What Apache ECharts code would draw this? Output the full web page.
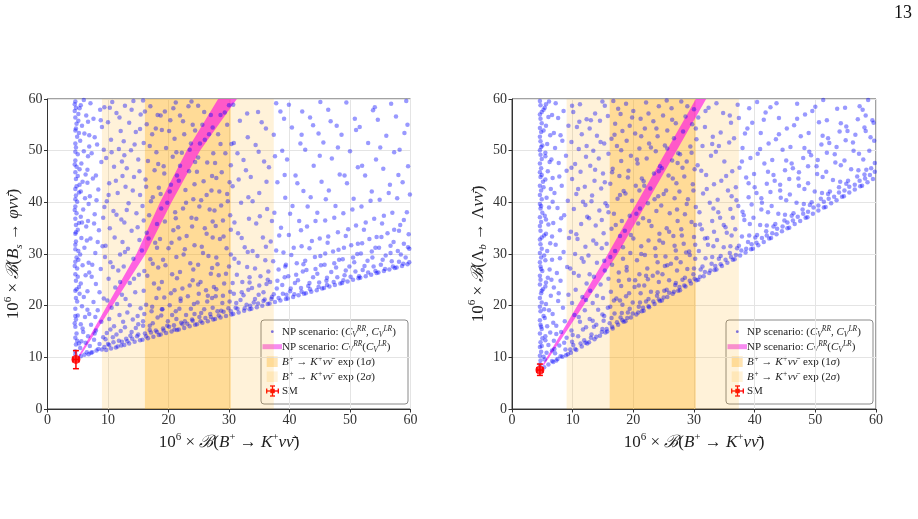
<!DOCTYPE html>
<html>
<head>
<meta charset="utf-8">
<script src="https://cdn.jsdelivr.net/npm/echarts@6/dist/echarts.min.js"></script>
<style>
  html, body { margin: 0; padding: 0; background: #fff; }
  #chart { width: 918px; height: 519px; }
</style>
</head>
<body>
<div id="chart"></div>
<script>
// B+ -> K+ nu nubar experimental bands (10^6 x BR)
const sigma1 = [16.1, 30.3]
const sigma2 = [9.0, 37.4]
const axisRange = [0, 60]
const tickStep = 10

// SM point: [x, y] and errors [xlo, xhi, ylo, yhi]
const smLeft = [4.7, 9.6]
const smLeftErr = [4.2, 5.2, 7.8, 11.3]
const smRight = [4.6, 7.55]
const smRightErr = [4.1, 5.1, 6.5, 8.7]

// C_V^RR(C_V^LR) band outline
const bandLeft = [[5.0, 10.0], [14.7, 30.0], [18.6, 40.0], [23.0, 50.0], [28.2, 60.0],
  [31.3, 60.0], [25.2, 50.0], [20.5, 40.0], [16.2, 30.0], [5.3, 10.0]]
const bandRight = [[5.0, 8.5], [15.8, 30.0], [30.3, 60.0], [32.0, 60.0], [17.4, 30.0], [5.3, 8.5]]

// NP scan points (C_V^RR, C_V^LR), left panel: B_s -> phi nu nu
const scanLeft = [
  [4.6,11.2],[4.7,12.5],[4.6,13.8],[4.8,14.6],[4.6,15.9],[4.7,17.3],[5.0,18.1],[4.6,19.4],[4.9,20.8],[4.7,21.5],
  [4.6,22.9],[5.2,23.6],[4.7,24.8],[4.6,26.1],[4.9,27.2],[4.6,28.5],[4.8,29.3],[5.1,30.6],[4.6,31.8],[4.7,32.4],
  [4.6,33.9],[5.0,34.7],[4.7,35.6],[4.6,36.8],[4.8,37.9],[4.6,39.2],[4.9,40.1],[4.7,41.3],[4.6,42.6],[5.3,43.4],
  [4.7,44.5],[4.6,45.8],[4.8,46.9],[4.6,48.1],[5.0,49.3],[4.7,50.6],[4.6,51.4],[4.9,52.7],[4.6,53.9],[4.8,55.2],
  [4.6,56.4],[5.1,57.1],[4.7,58.3],[4.6,59.5],[5.4,11.8],[5.6,13.1],[5.9,14.9],[5.5,16.4],[6.2,17.8],[5.7,19.9],
  [6.0,21.7],[5.5,24.3],[6.3,25.9],[5.8,27.8],[5.4,29.9],[6.1,31.2],[5.6,33.1],[6.4,35.3],[5.5,37.2],[5.9,38.6],
  [6.2,40.8],[5.5,42.1],[5.8,44.0],[6.3,45.4],[5.6,47.5],[6.0,49.9],[5.4,51.9],[6.1,53.3],[5.7,54.8],[6.4,56.8],
  [5.5,58.8],[6.0,59.8],[4.5,16.6],[4.8,23.2],[4.5,27.7],[4.7,34.2],[4.5,38.5],[4.8,43.1],[4.5,47.3],[4.7,54.3],
  [4.5,57.7],
  [6.8,10.6],[7.4,11.0],[8.1,11.3],[9.0,11.5],[7.0,12.2],[8.6,12.6],[7.7,13.4],[6.7,14.1],[9.2,13.9],[8.0,15.2],
  [7.2,16.3],[8.9,16.9],[6.9,18.4],[8.3,19.1],[7.6,20.7],[9.3,21.4],[6.6,22.8],[8.0,24.2],[7.3,25.6],[8.8,27.1],
  [6.8,28.3],[7.9,30.2],[9.1,31.5],[7.1,33.0],[8.5,34.6],[6.7,36.4],[7.8,37.7],[9.4,39.1],[7.0,41.2],[8.4,42.5],
  [7.5,44.6],[6.6,46.3],[8.9,47.8],[7.3,49.5],[8.2,51.2],[6.9,53.0],[9.0,54.6],[7.6,56.2],[8.7,57.9],[7.1,59.2],
  [9.7,11.4],[10.5,11.7],[11.3,11.9],[12.2,12.3],[10.0,12.6],[11.8,13.2],[10.8,13.9],[9.8,14.7],[12.1,15.1],[11.0,16.0],
  [10.2,17.4],[11.9,18.2],[10.6,19.6],[9.9,21.0],[12.3,22.1],[11.2,23.5],[10.1,25.2],[11.7,26.8],[10.4,28.4],[12.0,29.9],
  [9.6,31.6],[11.1,33.2],[10.3,35.0],[12.2,36.7],[10.9,38.3],[9.8,40.2],[11.6,41.8],[10.2,43.7],[12.4,45.1],[11.0,46.9],
  [9.7,48.6],[11.8,50.3],[10.5,52.1],[12.1,53.8],[10.0,55.5],[11.4,57.3],[10.7,59.4],
  [12.7,12.4],[13.5,12.7],[14.4,13.0],[15.3,13.3],[13.0,13.6],[14.8,14.1],[13.9,14.9],[12.8,15.8],[15.0,16.4],[14.1,17.3],
  [13.2,18.7],[15.4,19.5],[12.9,21.3],[14.5,22.6],[13.6,24.4],[15.1,26.0],[12.6,27.6],[14.2,29.1],[13.3,31.0],[15.2,32.7],
  [13.9,34.5],[12.7,36.1],[14.7,37.9],[13.4,39.8],[15.3,41.4],[12.9,43.0],[14.3,44.9],[13.1,46.6],[15.0,48.3],[13.8,50.1],
  [12.6,51.8],[14.6,53.6],[13.5,55.4],[15.4,57.0],[12.8,58.7],[14.2,59.6],
  [15.7,13.4],[16.6,13.7],[17.5,14.0],[18.4,14.3],[16.1,14.6],[17.9,15.2],[16.9,16.1],[15.8,17.0],[18.2,17.7],[17.2,18.9],
  [16.3,20.2],[18.0,21.5],[15.9,22.9],[17.6,24.3],[16.5,25.8],[18.3,27.4],[17.0,29.0],[15.6,30.7],[17.8,32.2],[16.4,34.1],
  [18.1,35.8],[16.8,37.5],[15.7,39.3],[17.4,41.0],[18.4,42.8],[16.2,44.4],[17.7,46.2],[16.6,48.0],[18.0,49.7],[15.9,51.5],
  [17.3,53.2],[16.4,55.1],[18.2,56.9],[17.0,58.6],[15.8,59.7],
  [18.7,14.4],[19.6,14.7],[20.5,15.0],[21.4,15.3],[19.1,15.6],[20.9,16.2],[19.9,17.0],[18.8,18.1],[21.2,18.9],[20.2,20.1],
  [19.3,21.6],[21.0,23.0],[18.9,24.6],[20.6,26.1],[19.5,27.8],[21.3,29.4],[20.0,31.1],[18.6,32.9],[20.8,34.6],[19.4,36.3],
  [21.1,38.1],[19.8,39.9],[18.7,41.6],[20.4,43.4],[21.4,45.2],[19.2,47.0],[20.7,48.8],[19.6,50.5],[21.0,52.3],[18.9,54.0],
  [20.3,55.9],[19.4,57.6],[21.2,59.3],
  [21.7,15.4],[22.6,15.7],[23.5,16.0],[24.4,16.3],[22.1,16.7],[23.9,17.3],[22.9,18.2],[21.8,19.4],[24.2,20.3],[23.2,21.8],
  [22.3,23.3],[24.0,24.9],[21.9,26.5],[23.6,28.2],[22.5,29.9],[24.3,31.7],[23.0,33.5],[21.6,35.2],[23.8,37.0],[22.4,38.8],
  [24.1,40.6],[22.8,42.4],[21.7,44.2],[23.4,46.0],[24.4,47.8],[22.2,49.6],[23.7,51.4],[22.6,53.2],[24.0,55.0],[21.9,56.8],
  [23.3,58.6],
  [24.7,16.4],[25.6,16.7],[26.5,17.0],[27.4,17.3],[25.1,17.8],[26.9,18.4],[25.9,19.3],[24.8,20.6],[27.2,21.5],[26.2,23.0],
  [25.3,24.6],[27.0,26.2],[24.9,27.9],[26.6,29.6],[25.5,31.4],[27.3,33.2],[26.0,35.0],[24.6,36.8],[26.8,38.6],[25.4,40.4],
  [27.1,42.3],[25.8,44.1],[24.7,45.9],[26.4,47.7],[27.4,49.5],[25.2,51.4],[26.7,53.2],[25.6,55.0],[27.0,56.9],[24.9,58.7],
  [27.7,17.4],[28.6,17.7],[29.5,18.0],[30.4,18.3],[28.1,18.9],[29.9,19.5],[28.9,20.5],[27.8,21.8],[30.2,22.7],[29.2,24.3],
  [28.3,25.9],[30.0,27.6],[27.9,29.3],[29.6,31.1],[28.5,32.9],[30.3,34.7],[29.0,36.5],[27.6,38.4],[29.8,40.2],[28.4,42.1],
  [30.1,43.9],[28.8,45.8],[27.7,47.6],[29.4,49.5],[30.4,51.3],[28.2,53.2],[29.7,55.0],[28.6,56.9],[30.0,58.8],
  [30.7,18.4],[31.6,18.7],[32.5,19.0],[33.4,19.3],[31.1,19.6],[32.9,20.2],[31.9,21.1],[30.8,22.3],[33.2,23.1],[32.2,24.6],
  [31.3,26.0],[33.0,27.5],[30.9,29.1],[32.6,31.3],[31.5,34.0],[33.3,36.8],[32.0,39.9],[30.6,43.1],[32.8,46.2],[31.4,49.5],
  [33.1,52.6],[31.8,55.8],[30.7,58.9],
  [33.7,19.4],[34.6,19.7],[35.5,20.0],[36.4,20.3],[34.1,20.6],[35.9,21.2],[34.9,22.1],[33.8,23.4],[36.2,24.2],[35.2,25.7],
  [34.3,27.2],[36.0,28.8],[33.9,30.6],[35.6,33.2],[34.5,35.9],[36.3,38.7],[35.0,41.8],[33.6,44.9],[35.8,47.9],[34.4,51.1],
  [36.1,54.3],[34.8,57.5],
  [36.7,20.4],[37.6,20.7],[38.5,21.0],[39.4,21.3],[37.1,21.7],[38.9,22.3],[37.9,23.3],[36.8,24.6],[39.2,25.5],[38.2,27.0],
  [37.3,28.6],[39.0,30.3],[36.9,32.4],[38.6,35.1],[37.5,38.0],[39.3,40.9],[38.0,43.9],[36.6,46.8],[38.8,50.0],[37.4,53.1],
  [39.1,56.2],[37.8,59.2],
  [39.7,21.4],[40.6,21.7],[41.5,22.0],[42.4,22.3],[40.1,22.8],[41.9,23.4],[40.9,24.4],[39.8,25.7],[42.2,26.6],[41.2,28.2],
  [40.3,29.8],[42.0,31.5],[39.9,33.7],[41.6,36.4],[40.5,39.3],[42.3,42.2],[41.0,45.2],[39.6,48.3],[41.8,51.4],[40.4,54.5],
  [42.1,57.6],
  [42.7,22.4],[43.6,22.7],[44.5,23.0],[45.4,23.3],[43.1,23.8],[44.9,24.5],[43.9,25.5],[42.8,26.9],[45.2,27.8],[44.2,29.4],
  [43.3,31.1],[45.0,33.0],[42.9,35.3],[44.6,38.0],[43.5,41.0],[45.3,44.0],[44.0,47.1],[42.6,50.2],[44.8,53.3],[43.4,56.4],
  [45.1,59.4],
  [45.7,23.4],[46.6,23.7],[47.5,24.0],[48.4,24.3],[46.1,24.8],[47.9,25.5],[46.9,26.5],[45.8,27.9],[48.2,28.9],[47.2,30.5],
  [46.3,32.2],[48.0,34.2],[45.9,36.5],[47.6,39.3],[46.5,42.3],[48.3,45.4],[47.0,48.5],[45.6,51.6],[47.8,54.8],[46.4,57.9],
  [48.7,24.4],[49.6,24.7],[50.5,25.0],[51.4,25.3],[49.1,25.9],[50.9,26.6],[49.9,27.6],[48.8,29.0],[51.2,30.0],[50.2,31.7],
  [49.3,33.5],[51.0,35.5],[48.9,37.9],[50.6,40.7],[49.5,43.7],[51.3,46.8],[50.0,49.9],[48.6,53.1],[50.8,56.2],[49.4,59.3],
  [51.7,25.4],[52.6,25.7],[53.5,26.0],[54.4,26.3],[52.1,26.9],[53.9,27.6],[52.9,28.7],[51.8,30.1],[54.2,31.2],[53.2,32.9],
  [52.3,34.7],[54.0,36.8],[51.9,39.2],[53.6,42.1],[52.5,45.2],[54.3,48.3],[53.0,51.5],[51.6,54.6],[53.8,57.8],
  [54.7,26.4],[55.6,26.7],[56.5,27.0],[57.4,27.3],[55.1,27.9],[56.9,28.6],[55.9,29.7],[54.8,31.2],[57.2,32.3],[56.2,34.0],
  [55.3,35.9],[57.0,38.0],[54.9,40.5],[56.6,43.4],[55.5,46.5],[57.3,49.7],[56.0,52.9],[54.6,56.0],[56.8,59.1],
  [57.7,27.4],[58.6,27.7],[59.5,28.0],[58.1,28.5],[59.2,29.3],[57.9,30.6],[58.9,32.0],[59.7,33.8],[58.3,35.6],[59.4,38.1],
  [57.8,40.8],[58.7,43.9],[59.6,47.0],[58.2,50.2],[59.0,53.4],[57.6,56.6],[59.3,59.6],
  [5.5,10.2],[6.1,10.5],[6.5,11.0],[7.2,10.9],[8.4,11.6],[9.4,12.0],[10.2,12.4],[11.6,12.1],[12.3,13.0],[13.2,13.1],
  [14.0,13.6],[15.0,14.4],[16.3,14.1],[17.1,14.8],[18.1,14.9],[19.2,15.2],[20.1,15.9],[21.0,15.4],[22.3,16.4],[23.1,16.5],
  [24.0,17.1],[25.3,17.0],[26.1,17.6],[27.0,17.8],[28.3,18.1],[29.1,18.8],[30.3,18.9],[31.4,19.4],[32.6,19.5],[33.5,20.0],
  [34.8,20.4],[35.7,20.9],[37.0,21.3],[38.2,21.5],[39.5,22.1],[40.8,22.2],[42.0,22.7],[43.4,23.2],[44.8,23.6],[46.2,24.0],
  [47.3,24.6],[48.9,24.9],[50.1,25.6],[51.5,25.7],[53.0,26.4],[54.2,26.7],[55.8,27.1],[57.1,27.6],[58.8,28.1],[59.8,28.4],
  [6.3,12.8],[7.8,14.6],[9.6,13.5],[11.4,14.4],[12.5,16.9],[14.6,15.7],[16.0,18.4],[17.4,16.6],[19.0,19.3],[20.6,18.2],
  [22.0,20.9],[23.7,19.4],[25.0,22.3],[26.4,20.8],[27.5,23.6],[29.0,21.9],[30.6,24.4],[32.1,22.6],[33.4,25.5],[35.0,23.9],
  [36.5,26.6],[38.0,24.8],[39.4,27.9],[41.1,26.0],[42.6,28.7],[44.3,27.1],[45.9,30.1],[47.4,28.2],[49.0,31.2],[50.5,29.3],
  [52.0,32.1],[53.6,30.5],[55.2,33.3],[56.7,31.6],[58.1,34.5],[59.6,31.3]
]

const scanLeftMore = [
  [4.6,10.6],[4.9,13.2],[4.6,18.0],[5.0,25.6],[4.6,30.9],[5.2,36.0],[4.6,40.6],[5.0,45.1],[4.6,49.8],[5.1,55.8],[4.5,59.0],
  [5.2,12.7],[5.8,15.6],[6.6,19.2],[5.3,22.3],[6.9,26.4],[5.1,28.9],[6.5,32.6],[5.7,36.1],[6.8,39.7],[5.2,41.9],
  [6.6,43.8],[5.3,46.4],[6.9,50.8],[5.2,53.4],[6.7,55.6],[5.3,58.2],
  [7.9,17.8],[8.6,22.6],[7.4,27.9],[9.5,29.4],[8.3,32.3],[7.7,35.9],[9.2,37.0],[8.1,40.4],[6.7,48.9],[8.0,45.2],
  [9.3,50.2],[7.8,52.6],[8.8,55.9],[9.4,58.4],
  [10.9,12.9],[10.4,15.4],[11.5,20.3],[12.0,24.6],[10.8,27.5],[12.4,32.3],[11.4,37.6],[10.1,41.4],[11.3,44.2],[12.3,47.9],
  [10.6,49.7],[11.9,56.4],[10.3,58.3],
  [13.7,14.2],[14.9,18.0],[13.6,20.1],[14.3,25.2],[12.8,30.4],[14.9,35.2],[13.1,38.5],[14.1,42.3],[15.2,46.0],[12.7,49.1],
  [14.4,51.2],[15.3,54.2],[13.9,57.9],
  [16.9,15.3],[15.8,16.1],[17.3,19.8],[18.4,23.3],[16.0,26.7],[17.4,28.1],[18.1,31.2],[16.7,33.0],[15.9,36.5],[17.1,40.2],
  [16.3,43.0],[18.3,47.4],[16.9,50.9],[17.9,54.3],[16.1,57.6],
  [19.8,16.1],[21.3,17.4],[18.9,19.3],[20.4,22.4],[21.4,25.3],[19.1,28.9],[20.5,32.2],[21.2,36.9],[18.8,38.8],[20.2,42.1],
  [19.3,45.6],[21.3,49.7],[20.1,53.8],[18.7,56.8],[20.8,58.2],
  [22.7,17.0],[24.3,18.4],[22.0,21.4],[23.5,23.9],[24.1,27.0],[22.7,30.9],[21.8,33.0],[23.9,35.3],[22.9,39.9],[24.3,43.5],
  [21.9,47.1],[23.5,50.2],[24.4,53.9],[22.4,55.7],[23.8,59.5],
  [25.4,18.6],[27.3,19.6],[26.5,21.9],[24.9,24.1],[27.2,27.3],[25.7,30.2],[26.3,33.9],[27.3,36.3],[25.1,39.2],[26.3,41.4],
  [27.2,45.1],[24.9,48.7],[26.0,52.1],[27.3,54.5],[25.9,57.5],
  [28.7,19.0],[30.1,20.8],[27.9,23.2],[29.5,26.2],[28.1,28.0],[30.3,29.9],[29.1,33.4],[27.8,35.4],[30.2,37.5],[28.7,39.4],
  [29.7,41.6],[27.9,44.7],[30.3,47.2],[28.6,51.3],[29.3,57.4],
  [31.2,20.5],[32.4,22.0],[33.4,24.5],[31.6,28.3],[33.1,30.4],[32.1,33.1],[30.9,36.1],[33.2,41.0],[31.6,44.4],[32.4,48.2],
  [30.8,51.5],[33.0,57.2],
  [34.3,21.3],[35.7,22.6],[36.4,25.0],[34.7,29.6],[36.1,31.4],[35.1,37.3],[33.9,40.2],[36.2,44.0],[34.9,49.8],[35.4,55.5],
  [37.4,22.2],[38.8,24.0],[39.3,27.6],[37.8,30.7],[38.3,33.6],[37.1,36.4],[39.2,45.3],[37.6,48.9],[38.5,57.6],
  [40.2,23.3],[41.4,24.9],[42.3,28.0],[40.7,31.2],[41.9,34.6],[40.1,37.8],[41.3,43.7],[42.0,53.1],[39.9,58.9],
  [43.3,24.4],[44.6,26.2],[45.1,29.6],[43.7,32.5],[44.3,36.4],[43.0,39.2],[45.0,49.0],[43.9,54.9],
  [46.2,25.4],[47.7,27.4],[48.1,30.8],[46.4,33.4],[47.4,37.0],[46.0,40.6],[48.0,50.6],[46.8,55.7],
  [49.3,26.8],[50.7,28.4],[51.3,32.0],[49.7,34.8],[50.4,38.6],[49.1,45.2],[51.0,54.0],
  [52.4,27.7],[53.7,29.3],[54.4,33.3],[52.6,36.1],[53.4,40.3],[52.0,47.1],[54.1,58.4],
  [55.4,28.9],[56.7,30.2],[57.3,34.7],[55.6,37.4],[56.4,41.8],[55.0,50.6],
  [58.4,29.9],[59.8,31.0],[58.9,36.6],[59.9,41.5],[58.0,45.3],[59.5,55.0]
]

// NP scan points, right panel: Lambda_b -> Lambda nu nu
const scanRight = [
  [4.6,8.6],[4.7,9.4],[4.6,10.3],[4.8,11.1],[4.6,12.0],[4.7,12.9],[5.0,13.7],[4.6,14.6],[4.9,15.5],[4.7,16.3],
  [4.6,17.2],[5.2,18.0],[4.7,18.9],[4.6,19.8],[4.9,20.6],[4.6,21.5],[4.8,22.4],[5.1,23.2],[4.6,24.1],[4.7,25.0],
  [4.6,25.8],[5.0,26.7],[4.7,27.6],[4.6,28.4],[4.8,29.3],[4.6,30.2],[4.9,31.0],[4.7,31.9],[4.6,32.8],[5.3,33.6],
  [4.7,34.5],[4.6,35.4],[4.8,36.2],[4.6,37.1],[5.0,38.0],[4.7,38.8],[4.6,39.7],[4.9,40.6],[4.6,41.4],[4.8,42.3],
  [4.6,43.2],[5.1,44.0],[4.7,44.9],[4.6,45.8],[4.8,46.6],[4.6,47.5],[4.9,48.4],[4.7,49.2],[4.6,50.1],[5.0,51.0],
  [4.7,51.8],[4.6,52.7],[4.8,53.6],[4.6,54.4],[4.9,55.3],[4.7,56.2],[4.6,57.0],[5.2,57.9],[4.7,58.8],[4.6,59.6],
  [5.4,9.6],[5.7,10.9],[6.0,12.4],[5.5,13.3],[6.3,14.8],[5.8,16.0],[5.4,17.6],[6.1,19.1],[5.6,20.3],[6.4,21.9],
  [5.5,23.7],[5.9,25.4],[6.2,27.0],[5.5,28.8],[5.8,30.6],[6.3,32.1],[5.6,33.9],[6.0,35.7],[5.4,37.4],[6.1,39.0],
  [5.7,40.9],[6.4,42.6],[5.5,44.4],[5.9,46.0],[6.2,47.8],[5.5,49.6],[5.8,51.3],[6.3,53.0],[5.6,54.8],[6.0,56.5],
  [5.4,58.3],[6.1,59.5],
  [6.8,9.1],[7.5,9.7],[8.3,10.1],[9.2,10.6],[7.1,10.8],[8.8,11.5],[7.8,12.3],[6.9,13.2],[9.0,13.8],[8.1,14.9],
  [7.3,16.1],[8.7,17.0],[6.7,18.4],[8.4,19.6],[7.6,20.9],[9.3,22.1],[6.9,23.5],[8.0,24.8],[7.4,26.3],[9.1,27.5],
  [6.6,28.9],[8.5,30.4],[7.2,31.8],[9.4,33.1],[7.9,34.6],[6.8,36.0],[8.6,37.5],[7.5,38.9],[9.2,40.3],[7.0,41.8],
  [8.2,43.2],[6.7,44.7],[9.0,46.1],[7.7,47.6],[8.9,49.0],[7.1,50.5],[8.3,51.9],[6.9,53.4],[9.3,54.8],[7.6,56.3],
  [8.5,57.7],[7.2,59.2],
  [9.7,10.9],[10.6,11.4],[11.5,12.1],[12.4,12.7],[10.1,12.4],[11.9,13.3],[10.9,14.1],[9.8,15.2],[12.2,15.8],[11.2,16.9],
  [10.3,18.2],[12.0,19.1],[9.9,20.5],[11.6,21.7],[10.5,23.1],[12.3,24.3],[11.0,25.8],[9.6,27.2],[11.8,28.5],[10.4,30.0],
  [12.1,31.4],[10.8,32.9],[9.7,34.3],[11.4,35.8],[12.4,37.2],[10.2,38.7],[11.7,40.1],[10.6,41.6],[12.0,43.0],[9.9,44.5],
  [11.3,45.9],[10.4,47.4],[12.2,48.8],[11.0,50.3],[9.8,51.7],[11.5,53.2],[10.7,54.6],[12.3,56.1],[10.1,57.5],[11.2,59.0],
  [12.7,12.9],[13.6,13.5],[14.5,14.2],[15.4,14.8],[13.1,14.4],[14.9,15.5],[13.9,16.3],[12.8,17.4],[15.2,18.0],[14.2,19.2],
  [13.3,20.5],[15.0,21.5],[12.9,22.9],[14.6,24.1],[13.5,25.6],[15.3,26.8],[14.0,28.3],[12.6,29.7],[14.8,31.1],[13.4,32.6],
  [15.1,34.0],[13.8,35.5],[12.7,36.9],[14.4,38.4],[15.4,39.8],[13.2,41.3],[14.7,42.7],[13.6,44.2],[15.0,45.6],[12.9,47.1],
  [14.3,48.5],[13.4,50.0],[15.2,51.4],[14.0,52.9],[12.8,54.3],[14.5,55.8],[13.7,57.2],[15.3,58.7],
  [15.7,15.0],[16.6,15.6],[17.5,16.3],[18.4,16.9],[16.1,16.6],[17.9,17.7],[16.9,18.5],[15.8,19.6],[18.2,20.2],[17.2,21.4],
  [16.3,22.7],[18.0,23.8],[15.9,25.2],[17.6,26.4],[16.5,27.9],[18.3,29.1],[17.0,30.6],[15.6,32.0],[17.8,33.5],[16.4,34.9],
  [18.1,36.4],[16.8,37.8],[15.7,39.3],[17.4,40.7],[18.4,42.2],[16.2,43.6],[17.7,45.1],[16.6,46.5],[18.0,48.0],[15.9,49.4],
  [17.3,50.9],[16.4,52.3],[18.2,53.8],[17.0,55.2],[15.8,56.7],[17.5,58.1],[16.7,59.6],
  [18.7,17.0],[19.6,17.7],[20.5,18.3],[21.4,18.9],[19.1,18.7],[20.9,19.8],[19.9,20.6],[18.8,21.8],[21.2,22.4],[20.2,23.6],
  [19.3,25.0],[21.0,26.1],[18.9,27.5],[20.6,28.8],[19.5,30.2],[21.3,31.5],[20.0,33.0],[18.6,34.5],[20.8,35.9],[19.4,37.4],
  [21.1,38.8],[19.8,40.3],[18.7,41.7],[20.4,43.2],[21.4,44.6],[19.2,46.1],[20.7,47.5],[19.6,49.0],[21.0,50.4],[18.9,51.9],
  [20.3,53.3],[19.4,54.8],[21.2,56.2],[20.0,57.7],[18.8,59.1],
  [21.7,19.0],[22.6,19.7],[23.5,20.3],[24.4,20.9],[22.1,20.8],[23.9,21.9],[22.9,22.7],[21.8,23.9],[24.2,24.6],[23.2,25.8],
  [22.3,27.2],[24.0,28.4],[21.9,29.8],[23.6,31.1],[22.5,32.6],[24.3,33.9],[23.0,35.4],[21.6,36.9],[23.8,38.3],[22.4,39.8],
  [24.1,41.2],[22.8,42.7],[21.7,44.1],[23.4,45.6],[24.4,47.0],[22.2,48.5],[23.7,49.9],[22.6,51.4],[24.0,52.8],[21.9,54.3],
  [23.3,55.7],[22.5,57.2],[24.2,58.6],
  [24.7,21.0],[25.6,21.7],[26.5,22.3],[27.4,22.9],[25.1,22.9],[26.9,24.0],[25.9,24.9],[24.8,26.1],[27.2,26.8],[26.2,28.1],
  [25.3,29.5],[27.0,30.7],[24.9,32.2],[26.6,33.5],[25.5,35.0],[27.3,36.4],[26.0,37.9],[24.6,39.4],[26.8,40.8],[25.4,42.3],
  [27.1,43.7],[25.8,45.2],[24.7,46.6],[26.4,48.1],[27.4,49.5],[25.2,51.0],[26.7,52.4],[25.6,53.9],[27.0,55.3],[24.9,56.8],
  [26.3,58.2],[25.5,59.7],
  [27.7,23.0],[28.6,23.7],[29.5,24.3],[30.4,24.9],[28.1,25.0],[29.9,26.1],[28.9,27.1],[27.8,28.4],[30.2,29.1],[29.2,30.5],
  [28.3,32.0],[30.0,33.3],[27.9,34.8],[29.6,36.2],[28.5,37.7],[30.3,39.1],[29.0,40.6],[27.6,42.1],[29.8,43.5],[28.4,45.0],
  [30.1,46.4],[28.8,47.9],[27.7,49.3],[29.4,50.8],[30.4,52.2],[28.2,53.7],[29.7,55.1],[28.6,56.6],[30.0,58.0],[27.9,59.5],
  [30.7,25.0],[31.6,25.7],[32.5,26.3],[33.4,26.9],[31.1,27.0],[32.9,28.1],[31.9,29.2],[30.8,30.6],[33.2,31.5],[32.2,33.1],
  [31.3,34.8],[33.0,36.4],[30.9,38.1],[32.6,39.9],[31.5,41.7],[33.3,43.5],[32.0,45.3],[30.6,47.2],[32.8,49.0],[31.4,50.9],
  [33.1,52.7],[31.8,54.6],[30.7,56.4],[32.4,58.3],
  [33.7,27.0],[34.6,27.7],[35.5,28.3],[36.4,28.9],[34.1,29.1],[35.9,30.2],[34.9,31.3],[33.8,32.7],[36.2,33.6],[35.2,35.2],
  [34.3,37.0],[36.0,38.7],[33.9,40.5],[35.6,42.3],[34.5,44.2],[36.3,46.0],[35.0,47.9],[33.6,49.8],[35.8,51.6],[34.4,53.5],
  [36.1,55.4],[34.8,57.3],[33.7,59.2],
  [36.7,29.0],[37.6,29.7],[38.5,30.3],[39.4,30.9],[37.1,31.1],[38.9,32.3],[37.9,33.4],[36.8,34.8],[39.2,35.8],[38.2,37.5],
  [37.3,39.3],[39.0,41.0],[36.9,42.9],[38.6,44.8],[37.5,46.7],[39.3,48.6],[38.0,50.5],[36.6,52.4],[38.8,54.3],[37.4,56.3],
  [39.1,58.2],
  [39.7,31.0],[40.6,31.7],[41.5,32.3],[42.4,33.0],[40.1,33.2],[41.9,34.4],[40.9,35.6],[39.8,37.0],[42.2,38.1],[41.2,39.9],
  [40.3,41.8],[42.0,43.6],[39.9,45.5],[41.6,47.5],[40.5,49.4],[42.3,51.4],[41.0,53.4],[39.6,55.4],[41.8,57.4],[40.4,59.4],
  [42.7,33.1],[43.6,33.8],[44.5,34.4],[45.4,35.0],[43.1,35.3],[44.9,36.5],[43.9,37.8],[42.8,39.3],[45.2,40.4],[44.2,42.3],
  [43.3,44.2],[45.0,46.2],[42.9,48.2],[44.6,50.2],[43.5,52.2],[45.3,54.3],[44.0,56.3],[42.6,58.4],
  [45.7,35.1],[46.6,35.8],[47.5,36.4],[48.4,37.0],[46.1,37.4],[47.9,38.6],[46.9,39.9],[45.8,41.5],[48.2,42.6],[47.2,44.6],
  [46.3,46.6],[48.0,48.6],[45.9,50.7],[47.6,52.8],[46.5,54.9],[48.3,57.0],[47.0,59.1],
  [48.7,37.1],[49.6,37.8],[50.5,38.4],[51.4,39.0],[49.1,39.5],[50.9,40.7],[49.9,42.1],[48.8,43.7],[51.2,44.9],[50.2,47.0],
  [49.3,49.1],[51.0,51.2],[48.9,53.4],[50.6,55.5],[49.5,57.7],[51.3,59.8],
  [51.7,39.1],[52.6,39.8],[53.5,40.4],[54.4,41.1],[52.1,41.6],[53.9,42.9],[52.9,44.3],[51.8,45.9],[54.2,47.2],[53.2,49.3],
  [52.3,51.5],[54.0,53.7],[51.9,55.9],[53.6,58.1],
  [54.7,41.2],[55.6,41.9],[56.5,42.5],[57.4,43.1],[55.1,43.6],[56.9,45.0],[55.9,46.4],[54.8,48.1],[57.2,49.4],[56.2,51.6],
  [55.3,53.8],[57.0,56.1],[54.9,58.3],
  [57.7,43.2],[58.6,43.9],[59.5,44.5],[58.1,45.4],[59.2,46.6],[57.9,48.3],[58.9,50.0],[59.7,51.9],[58.3,53.8],[59.4,55.9],
  [57.8,57.9],[58.7,59.8],
  [5.3,8.1],[6.0,8.6],[6.6,9.3],[7.3,9.4],[8.0,10.2],[8.9,10.4],[9.6,11.5],[10.4,11.6],[11.3,12.7],[12.1,12.8],
  [13.0,13.8],[13.9,14.0],[14.8,14.9],[15.6,15.5],[16.5,15.9],[17.3,16.8],[18.2,17.2],[19.0,17.6],[19.9,18.5],[20.8,18.7],
  [21.6,19.6],[22.5,19.9],[23.3,20.8],[24.2,21.2],[25.0,21.6],[25.9,22.5],[26.7,22.7],[27.6,23.6],[28.4,23.9],[29.3,24.8],
  [30.1,25.2],[31.0,25.6],[31.8,26.5],[32.7,26.8],[33.5,27.7],[34.4,28.0],[35.2,28.9],[36.1,29.4],[36.9,29.8],[37.8,30.7],
  [38.6,31.0],[39.5,31.9],[40.3,32.2],[41.2,33.1],[42.0,33.6],[42.9,34.0],[43.7,34.9],[44.6,35.3],[45.4,36.1],[46.3,36.5],
  [47.1,37.2],[48.0,37.8],[48.8,38.2],[49.7,39.0],[50.5,39.4],[51.4,40.1],[52.2,40.7],[53.1,41.1],[53.9,41.9],[54.8,42.3],
  [55.6,43.0],[56.5,43.4],[57.3,44.2],[58.2,44.6],[59.0,45.3],[59.8,45.9],
  [7.0,11.6],[8.6,12.8],[10.0,14.3],[11.7,15.4],[13.3,17.1],[14.9,18.3],[16.2,19.8],[17.8,21.0],[19.3,22.4],[20.9,23.9],
  [22.4,25.1],[24.0,26.4],[25.6,27.8],[27.1,29.2],[28.7,30.3],[30.2,31.8],[31.8,33.0],[33.3,34.3],[34.9,35.6],[36.4,37.0],
  [38.0,38.2],[39.5,39.6],[41.1,40.8],[42.6,42.0],[44.2,43.4],[45.7,44.5],[47.3,45.8],[48.8,47.0],[50.4,48.2],[51.9,49.6],
  [53.5,50.7],[55.0,52.0],[56.6,53.1],[58.1,54.5],[59.6,55.4]
]

const scanRightMore = [
  [5.2,10.1],[4.9,12.2],[5.5,14.1],[4.8,15.9],[5.3,19.3],[4.9,22.9],[5.6,24.5],[4.8,27.1],[5.3,29.7],[4.9,33.2],
  [5.6,36.7],[4.8,39.3],[5.2,42.9],[4.9,45.3],[5.5,48.9],[4.8,50.7],[5.2,53.9],[4.9,57.5],[5.6,59.0],[6.6,11.3],
  [7.3,14.5],[6.8,16.7],[7.7,22.4],[6.5,25.0],[7.9,29.2],[6.6,33.4],[8.1,36.9],[6.7,40.1],[7.8,45.0],[6.5,48.3],
  [8.0,53.0],[6.6,56.9],
  [9.9,13.0],[11.0,17.8],[12.2,21.1],[10.2,26.3],[11.5,29.2],[10.6,33.8],[12.1,39.5],[10.9,42.6],[9.8,46.7],[12.3,50.9],
  [11.1,55.6],[9.9,58.7],
  [13.5,15.9],[15.1,17.1],[14.0,21.9],[12.8,26.1],[15.2,28.7],[13.9,32.0],[14.8,36.6],[13.1,40.2],[15.3,43.9],[13.7,46.3],
  [14.6,51.7],[13.0,55.9],[14.9,59.5],
  [16.4,17.6],[18.1,18.6],[16.8,21.0],[17.6,24.8],[16.2,29.4],[18.3,31.3],[17.1,35.6],[15.9,38.1],[17.8,41.4],[16.5,45.8],
  [18.0,50.1],[16.9,53.1],[17.9,57.1],
  [19.4,19.4],[21.1,20.6],[20.3,24.9],[18.9,26.8],[21.3,30.0],[19.6,33.7],[20.5,37.8],[21.0,42.3],[19.1,44.8],[20.6,48.3],
  [21.3,52.8],[19.8,56.4],
  [22.5,21.3],[24.0,22.6],[22.1,25.8],[23.7,29.6],[24.3,32.6],[22.6,36.4],[23.5,40.6],[21.8,43.2],[24.2,46.0],[22.9,50.6],
  [23.8,54.3],[22.1,59.3],
  [25.5,23.1],[27.0,24.4],[25.2,27.7],[26.8,31.6],[25.9,34.3],[27.2,38.6],[25.0,41.6],[26.5,44.6],[27.3,47.6],[25.6,50.4],
  [26.4,56.0],
  [28.5,25.4],[30.0,27.2],[29.3,29.8],[28.0,33.6],[30.2,35.6],[28.8,39.7],[29.9,42.3],[28.1,46.7],[29.6,49.6],[30.3,54.3],
  [28.9,58.6],
  [31.4,27.6],[33.0,29.4],[32.3,31.8],[31.0,35.7],[33.2,38.8],[32.1,42.6],[31.2,46.1],[33.0,51.3],[31.9,57.7],
  [34.4,29.6],[36.0,31.5],[35.4,34.1],[34.0,38.1],[36.2,41.2],[35.3,45.1],[34.1,50.9],[35.9,56.8],
  [37.4,31.6],[39.1,33.6],[38.3,36.6],[37.0,40.4],[39.0,43.7],[37.9,47.9],[38.4,53.3],[37.2,58.9],
  [40.4,33.7],[42.0,35.5],[41.1,38.6],[40.0,42.9],[42.2,45.9],[40.9,50.3],[41.5,56.0],
  [43.4,35.8],[45.0,37.6],[44.3,40.9],[43.1,45.3],[45.2,48.1],[44.0,53.2],[43.6,59.2],
  [46.4,37.9],[48.1,39.7],[47.3,43.2],[46.1,47.5],[48.2,50.5],[47.0,56.2],
  [49.4,40.0],[51.1,41.8],[50.3,45.5],[49.0,49.8],[51.2,52.9],[50.0,58.5],
  [52.4,42.1],[54.1,44.0],[53.3,47.7],[52.1,52.4],[54.2,55.3],
  [55.4,44.2],[57.1,46.2],[56.3,50.0],[55.1,54.7],[57.3,58.6],
  [58.4,46.3],[59.8,47.6],[59.1,52.6],[58.3,56.8]
]

const SERIF = '"Liberation Serif", "DejaVu Serif", serif'
const INK = '#222'

const nameRich = {
  n: { fontFamily: SERIF, fontSize: 17, color: INK, lineHeight: 22 },
  i: { fontFamily: SERIF, fontSize: 17, color: INK, fontStyle: 'italic', lineHeight: 22 },
  sup: { fontFamily: SERIF, fontSize: 11, color: INK, verticalAlign: 'top', lineHeight: 11 },
  sub: { fontFamily: SERIF, fontSize: 11, color: INK, fontStyle: 'italic', verticalAlign: 'bottom', lineHeight: 11 },
}

const xName = '{n|10}{sup|6}{n| × }{i|ℬ}{n|(}{i|B}{sup|+}{n| → }{i|K}{sup|+}{i|νν̄}{n|)}'
const yNameLeft = '{n|10}{sup|6}{n| × }{i|ℬ}{n|(}{i|B}{sub|s}{n| → }{i|φνν̄}{n|)}'
const yNameRight = '{n|10}{sup|6}{n| × }{i|ℬ}{n|(}{n|Λ}{sub|b}{n| → }{n|Λ}{i|νν̄}{n|)}'

function makeXAxis(gridIndex) {
  return {
    gridIndex,
    type: 'value',
    min: axisRange[0],
    max: axisRange[1],
    interval: tickStep,
    name: xName,
    nameLocation: 'middle',
    nameGap: 20,
    nameTextStyle: { rich: nameRich },
    axisLine: { show: true, onZero: false, lineStyle: { color: '#333', width: 1 } },
    axisTick: { show: true, length: 3.5, lineStyle: { color: '#333' } },
    axisLabel: { fontFamily: SERIF, fontSize: 14, color: '#333', margin: 4 },
    splitLine: { show: true, lineStyle: { color: '#e4e4e4', width: 1 } },
  }
}

function makeYAxis(gridIndex, name) {
  return {
    gridIndex,
    type: 'value',
    min: axisRange[0],
    max: axisRange[1],
    interval: tickStep,
    name,
    nameLocation: 'middle',
    nameGap: 20,
    nameTextStyle: { rich: nameRich },
    axisLine: { show: true, onZero: false, lineStyle: { color: '#333', width: 1 } },
    axisTick: { show: true, length: 3.5, lineStyle: { color: '#333' } },
    axisLabel: { fontFamily: SERIF, fontSize: 14, color: '#333', margin: 5 },
    splitLine: { show: true, lineStyle: { color: '#e4e4e4', width: 1 } },
  }
}

function bandSeries(idx) {
  return {
    type: 'line',
    xAxisIndex: idx,
    yAxisIndex: idx,
    data: [],
    silent: true,
    z: 1,
    markArea: {
      silent: true,
      itemStyle: { borderWidth: 0 },
      data: [
        [{ xAxis: sigma2[0], itemStyle: { color: 'rgba(255,165,0,0.15)' } }, { xAxis: sigma2[1] }],
        [{ xAxis: sigma1[0], itemStyle: { color: 'rgba(255,165,0,0.3)' } }, { xAxis: sigma1[1] }],
      ],
    },
  }
}

function npBandSeries(idx, outline) {
  return {
    type: 'custom',
    xAxisIndex: idx,
    yAxisIndex: idx,
    data: outline,
    silent: true,
    z: 3,
    renderItem(params, api) {
      if (params.dataIndex !== 0) return null
      const points = outline.map((p) => api.coord(p))
      return {
        type: 'polygon',
        shape: { points },
        style: { fill: 'rgba(255,10,230,0.62)' },
      }
    },
  }
}

function scanSeries(idx, points) {
  return {
    type: 'scatter',
    xAxisIndex: idx,
    yAxisIndex: idx,
    data: points,
    symbol: 'circle',
    symbolSize: 4.5,
    silent: true,
    z: 4,
    itemStyle: { color: 'rgba(0,0,255,0.5)' },
  }
}

function smErrorSeries(idx, pt, err) {
  return {
    type: 'custom',
    xAxisIndex: idx,
    yAxisIndex: idx,
    data: [[pt[0], pt[1], err[0], err[1], err[2], err[3]]],
    silent: true,
    z: 5,
    renderItem(params, api) {
      const x = api.value(0)
      const y = api.value(1)
      const left = api.coord([api.value(2), y])
      const right = api.coord([api.value(3), y])
      const bottom = api.coord([x, api.value(4)])
      const top = api.coord([x, api.value(5)])
      const st = { stroke: '#ff0000', lineWidth: 1.5 }
      const cap = 3
      return {
        type: 'group',
        children: [
          { type: 'line', shape: { x1: bottom[0], y1: bottom[1], x2: top[0], y2: top[1] }, style: st },
          { type: 'line', shape: { x1: bottom[0] - cap, y1: bottom[1], x2: bottom[0] + cap, y2: bottom[1] }, style: st },
          { type: 'line', shape: { x1: top[0] - cap, y1: top[1], x2: top[0] + cap, y2: top[1] }, style: st },
          { type: 'line', shape: { x1: left[0], y1: left[1], x2: right[0], y2: right[1] }, style: st },
          { type: 'line', shape: { x1: left[0], y1: left[1] - cap, x2: left[0], y2: left[1] + cap }, style: st },
          { type: 'line', shape: { x1: right[0], y1: right[1] - cap, x2: right[0], y2: right[1] + cap }, style: st },
        ],
      }
    },
  }
}

function smPointSeries(idx, pt) {
  return {
    type: 'scatter',
    xAxisIndex: idx,
    yAxisIndex: idx,
    data: [pt],
    symbol: 'circle',
    symbolSize: 9,
    silent: true,
    z: 6,
    itemStyle: { color: '#ff0000' },
  }
}

// legend drawn by hand so the LaTeX-ish labels fit
const legRich = {
  n: { fontFamily: SERIF, fontSize: 11, fill: INK, lineHeight: 14 },
  i: { fontFamily: SERIF, fontSize: 11, fill: INK, fontStyle: 'italic', lineHeight: 14 },
  sp: { fontFamily: SERIF, fontSize: 7.5, fill: INK, fontStyle: 'italic', verticalAlign: 'top', lineHeight: 8 },
  sb: { fontFamily: SERIF, fontSize: 7.5, fill: INK, fontStyle: 'italic', verticalAlign: 'bottom', lineHeight: 8 },
}
const legendLabels = [
  '{n|NP scenario: (}{i|C}{sb|V}{sp|RR}{n|, }{i|C}{sb|V}{sp|LR}{n|)}',
  '{n|NP scenario: }{i|C}{sb|V}{sp|RR}{n|(}{i|C}{sb|V}{sp|LR}{n|)}',
  '{i|B}{sp|+}{n| → }{i|K}{sp|+}{i|νν̄}{n|  exp (1}{i|σ}{n|)}',
  '{i|B}{sp|+}{n| → }{i|K}{sp|+}{i|νν̄}{n|  exp (2}{i|σ}{n|)}',
  '{n|SM}',
]

function legendGroup(x, y) {
  const rows = [11.7, 26.7, 41.7, 56.7, 71]
  const red = { stroke: '#ff0000', lineWidth: 1.3 }
  const children = [
    { type: 'rect', shape: { x: 0, y: 0, width: 147, height: 84, r: 3 }, style: { fill: 'rgba(255,255,255,0.85)', stroke: '#8a8a8a', lineWidth: 1 } },
    { type: 'circle', shape: { cx: 11.3, cy: rows[0], r: 1.4 }, style: { fill: 'rgba(0,0,255,0.6)' } },
    { type: 'rect', shape: { x: 1.5, y: rows[1] - 2.5, width: 19.5, height: 5 }, style: { fill: '#f78bf0' } },
    { type: 'rect', shape: { x: 5.7, y: rows[2] - 5.3, width: 11, height: 10.6 }, style: { fill: 'rgba(255,165,0,0.3)' } },
    { type: 'rect', shape: { x: 5.7, y: rows[3] - 5.3, width: 11, height: 10.6 }, style: { fill: 'rgba(255,165,0,0.15)' } },
    { type: 'line', shape: { x1: 5.7, y1: rows[4], x2: 17.3, y2: rows[4] }, style: red },
    { type: 'line', shape: { x1: 11.5, y1: rows[4] - 5, x2: 11.5, y2: rows[4] + 5 }, style: red },
    { type: 'line', shape: { x1: 9, y1: rows[4] - 5, x2: 14, y2: rows[4] - 5 }, style: red },
    { type: 'line', shape: { x1: 9, y1: rows[4] + 5, x2: 14, y2: rows[4] + 5 }, style: red },
    { type: 'line', shape: { x1: 5.7, y1: rows[4] - 2.5, x2: 5.7, y2: rows[4] + 2.5 }, style: red },
    { type: 'line', shape: { x1: 17.3, y1: rows[4] - 2.5, x2: 17.3, y2: rows[4] + 2.5 }, style: red },
    { type: 'rect', shape: { x: 9.3, y: rows[4] - 2.2, width: 4.4, height: 4.4 }, style: { fill: '#ff0000' } },
  ]
  legendLabels.forEach((t, k) => {
    children.push({
      type: 'text',
      x: 21,
      y: rows[k],
      style: { text: t, rich: legRich, align: 'left', verticalAlign: 'middle', fill: INK },
    })
  })
  return { type: 'group', x, y, silent: true, z: 100, children }
}

const chart = echarts.init(document.getElementById('chart'), null, { renderer: 'canvas' })

chart.setOption({
  animation: false,
  backgroundColor: '#fff',
  grid: [
    { left: 47.5, top: 99, width: 363, height: 310, show: true, borderColor: '#444', borderWidth: 1 },
    { left: 512, top: 99, width: 364, height: 310, show: true, borderColor: '#444', borderWidth: 1 },
  ],
  xAxis: [makeXAxis(0), makeXAxis(1)],
  yAxis: [makeYAxis(0, yNameLeft), makeYAxis(1, yNameRight)],
  series: [
    bandSeries(0),
    npBandSeries(0, bandLeft),
    scanSeries(0, scanLeft.concat(scanLeftMore)),
    smErrorSeries(0, smLeft, smLeftErr),
    smPointSeries(0, smLeft),
    bandSeries(1),
    npBandSeries(1, bandRight),
    scanSeries(1, scanRight.concat(scanRightMore)),
    smErrorSeries(1, smRight, smRightErr),
    smPointSeries(1, smRight),
  ],
  graphic: [
    { type: 'text', x: 912, y: 13, style: { text: '13', align: 'right', verticalAlign: 'middle', font: '18px "Liberation Serif", serif', fill: '#111' } },
    legendGroup(261, 320),
    legendGroup(726, 320),
  ],
})
</script>
</body>
</html>
